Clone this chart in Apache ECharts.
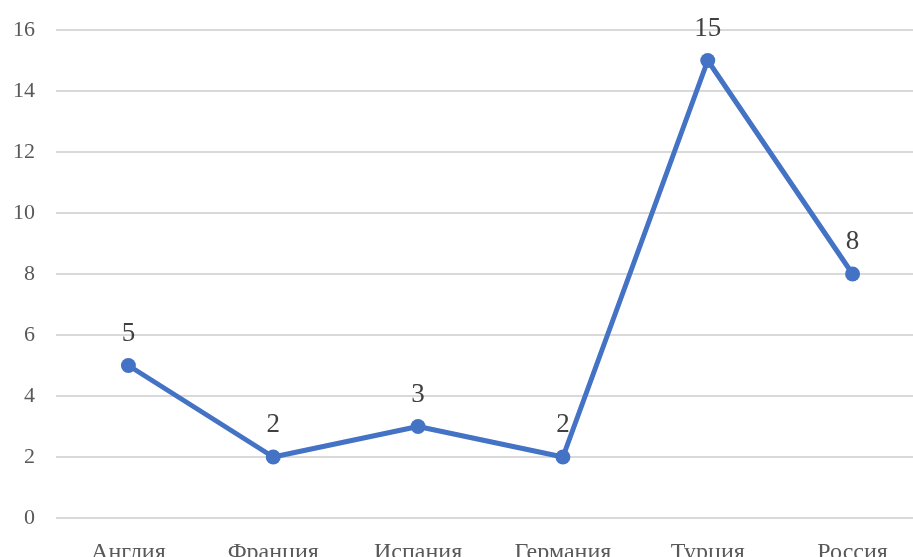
<!DOCTYPE html>
<html>
<head>
<meta charset="utf-8">
<script src="https://cdn.jsdelivr.net/npm/echarts@6/dist/echarts.min.js"></script>
<style>
  html, body { margin: 0; padding: 0; background: #fff; overflow: hidden; }
  #chart { width: 913px; height: 557px; }
</style>
</head>
<body>
<div id="chart"></div>
<script>
const countries = ["Англия", "Франция", "Испания", "Германия", "Турция", "Россия"];
const counts = [5, 2, 3, 2, 15, 8];

const font = "'Liberation Serif', 'Times New Roman', serif";

var myChart = echarts.init(document.getElementById("chart"));
var option = {
  animation: false,
  textStyle: { fontFamily: font },
  grid: { left: 56, right: -12, top: 30, bottom: 39, outerBoundsMode: "none", containLabel: false },
  xAxis: {
    type: "category",
    data: countries,
    axisLine: { show: false },
    axisTick: { show: false },
    axisLabel: {
      fontFamily: font,
      fontSize: 24,
      color: "#595959",
      margin: 23,
      verticalAlign: "top",
    },
  },
  yAxis: {
    type: "value",
    min: 0,
    max: 16,
    interval: 2,
    axisLine: { show: false },
    axisTick: { show: false },
    splitLine: { lineStyle: { color: "#d9d9d9", width: 2 } },
    axisLabel: {
      fontFamily: font,
      fontSize: 22,
      color: "#595959",
      margin: 21,
    },
  },
  series: [
    {
      type: "line",
      data: counts,
      symbol: "circle",
      symbolSize: 15,
      lineStyle: { color: "#4472c4", width: 5 },
      itemStyle: { color: "#4472c4" },
      label: {
        show: true,
        position: "top",
        distance: 11,
        fontFamily: font,
        fontSize: 27,
        color: "#404040",
      },
    },
  ],
};
myChart.setOption(option);
</script>
</body>
</html>
